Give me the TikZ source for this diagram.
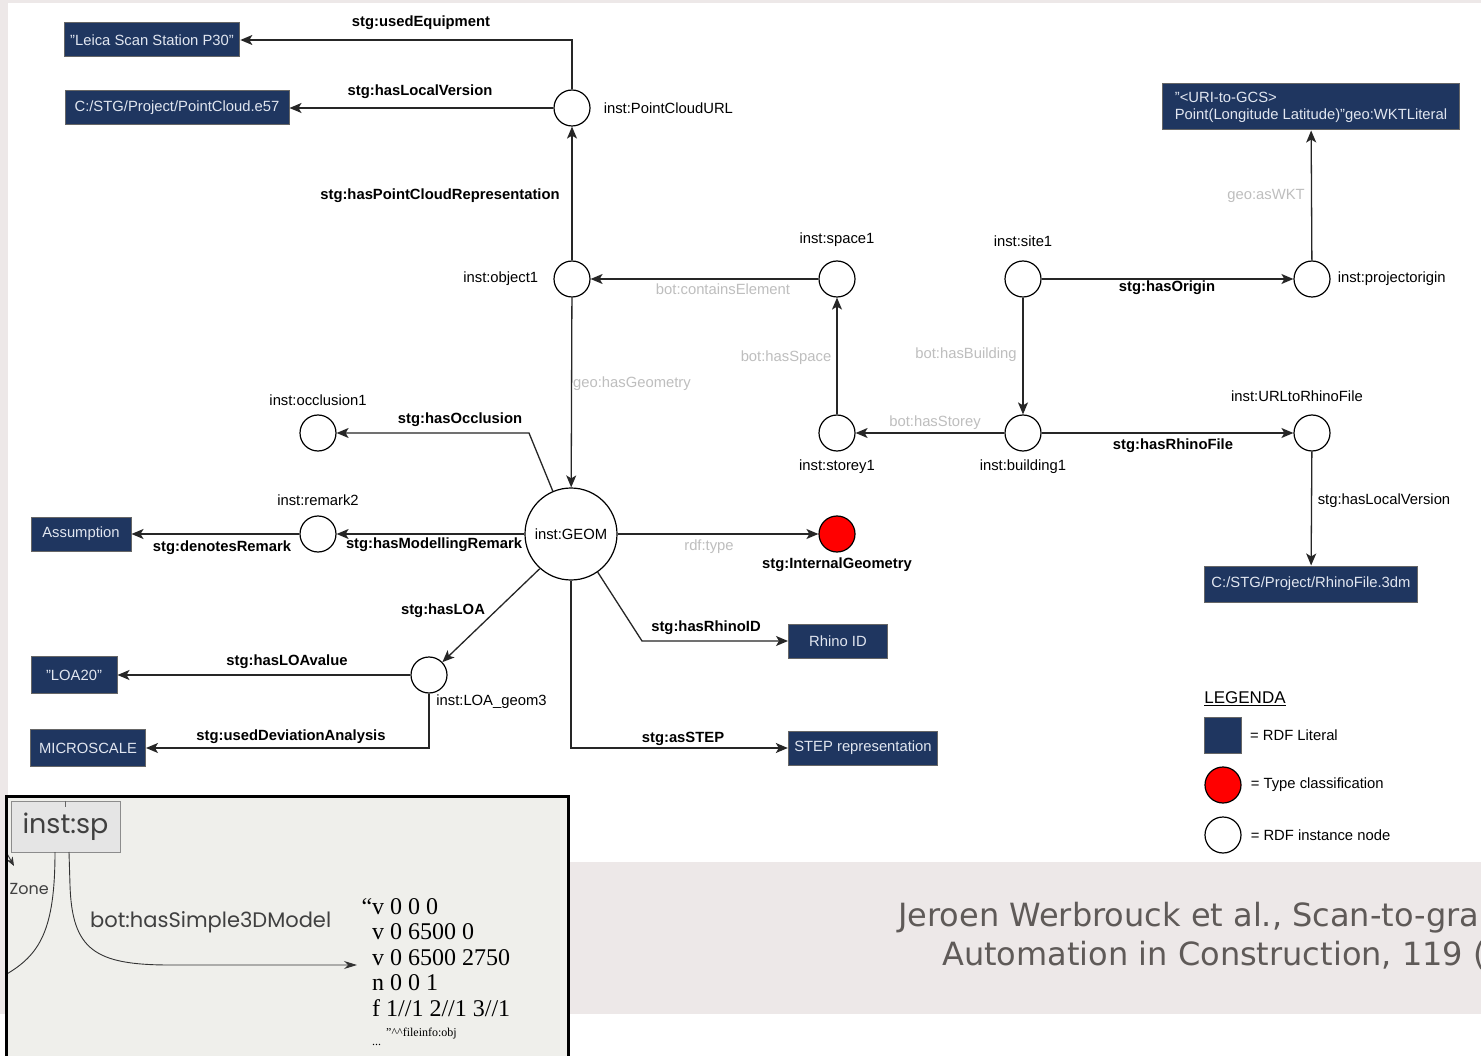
\documentclass[tikz,border=0pt]{standalone}
\usepackage{fontspec}
\setmainfont{Liberation Sans}
\newfontfamily\citefont{DejaVu Sans}
\newfontfamily\gothfont{Poppins}
\newfontfamily\objfont{Liberation Serif}
\usetikzlibrary{arrows.meta,positioning}
\definecolor{litblue}{RGB}{31,54,96}
\definecolor{littext}{RGB}{225,230,240}
\definecolor{relgray}{RGB}{190,190,190}
\definecolor{pagegray}{RGB}{237,232,232}
\definecolor{insetbg}{RGB}{239,239,235}
\definecolor{citegray}{RGB}{95,90,88}
\tikzset {
inst/.style={shape=circle,draw,line width=1.2pt,fill=white,minimum size=36pt,inner sep=0pt},
typ/.style={inst,fill=red},
lit/.style={shape=rectangle,draw=black!60,fill=litblue,text=littext,line width=1pt,minimum height=34pt,inner xsep=6pt,font=\fontsize{14.8}{17}\selectfont},
rel/.style={draw=black!85,line width=1.3pt,-{Stealth[length=12pt,width=10pt,inset=3pt]}},
lab/.style={inner sep=0pt,font=\fontsize{14.8}{17}\selectfont},
bl/.style={lab,font=\fontsize{14.8}{17}\selectfont\bfseries},
gl/.style={lab,text=relgray}
}
\begin{document}
\begin{tikzpicture}[x=1pt,y=-1pt]
\useasboundingbox (0,0) rectangle (1481,1056);
\fill[pagegray] (0,0) rectangle (1481,1056);
\fill[white] (8,3) rectangle (1481,862);
\fill[white] (0,1014) rectangle (1481,1056);
% instance nodes
\node[inst] (pcu) at (572,108) {};
\node[lab,right=13pt of pcu] (pcuL) {inst:PointCloudURL};
\node[inst] (obj) at (572,279) {};
\node[lab,left=15pt of obj] (objL) {inst:object1};
\node[inst] (space) at (837,279) {};
\node[lab,above=14pt of space] (spaceL) {inst:space1};
\node[inst] (site) at (1023,279) {};
\node[lab,above=14pt of site] (siteL) {inst:site1};
\node[inst] (origin) at (1312,279) {};
\node[lab,right=7pt of origin] (originL) {inst:projectorigin};
\node[inst] (occ) at (318,433) {};
\node[lab,above=9pt of occ] (occL) {inst:occlusion1};
\node[inst] (storey) at (837,433) {};
\node[lab,below=8pt of storey] (storeyL) {inst:storey1};
\node[inst] (bldg) at (1023,433) {};
\node[lab,below=8pt of bldg] (bldgL) {inst:building1};
\node[inst] (url) at (1312,433) {};
\node[lab,above=13pt of url,xshift=-15pt] (urlL) {inst:URLtoRhinoFile};
\node[inst] (remark) at (318,534) {};
\node[lab,above=10pt of remark] (remarkL) {inst:remark2};
\node[inst,minimum size=92pt,font=\fontsize{14.8}{17}\selectfont] (geom) at (571,534) {inst:GEOM};
\node[typ] (intgeo) at (837,534) {};
\node[bl,below=5pt of intgeo] (intgeoL) {stg:InternalGeometry};
\node[inst] (loa) at (429,675) {};
\node[lab,below right=6pt and -6pt of loa.south east] (loaL) {inst:LOA\_geom3};
% literals
\node[lit,minimum width=175pt] (leica) at (152,40) {"Leica Scan Station P30"};
\node[lit,minimum width=224pt] (e57) at (177,108) {C:/STG/Project/PointCloud.e57};
\node[lit,minimum width=297pt,minimum height=46pt,align=left] (uri) at (1311,107) {"<URI-to-GCS>\\Point(Longitude Latitude)"geo:WKTLiteral};
\node[lit,minimum width=213pt,minimum height=36pt] (rhinofile) at (1311,584) {C:/STG/Project/RhinoFile.3dm};
\node[lit,minimum width=100pt] (assump) at (81,534) {Assumption};
\node[lit,minimum width=99pt] (rhinoid) at (838,641) {Rhino ID};
\node[lit,minimum width=86pt,minimum height=37pt] (loa20) at (74,675) {"LOA20"};
\node[lit,minimum width=115pt,minimum height=37pt] (micro) at (88,748) {MICROSCALE};
\node[lit,minimum width=149pt] (step) at (863,748) {STEP representation};
% relations
\draw[rel] (pcu) |- (leica) node[bl] (lEquip) at (421,23) {stg:usedEquipment};
\draw[rel] (pcu) -- (e57) node[bl] (lLocal) at (420,92) {stg:hasLocalVersion};
\draw[rel] (obj) -- (pcu) node[bl] (lPcr) at (440,196) {stg:hasPointCloudRepresentation};
\draw[rel] (space) -- (obj) node[gl] (lCont) at (723,289) {bot:containsElement};
\draw[rel] (storey) -- (space) node[gl] (lSpace) at (786,358) {bot:hasSpace};
\draw[rel] (site) -- (bldg) node[gl] (lBldg) at (966,355) {bot:hasBuilding};
\draw[rel] (bldg) -- (storey) node[gl] (lStorey) at (935,423) {bot:hasStorey};
\draw[rel] (site) -- (origin) node[bl] (lOrigin) at (1167,288) {stg:hasOrigin};
\draw[rel] (origin) -- (uri) node[gl] (lWkt) at (1266,196) {geo:asWKT};
\draw[rel] (bldg) -- (url) node[bl] (lRhinoF) at (1173,446) {stg:hasRhinoFile};
\draw[rel] (url) -- (rhinofile) node[lab] (lLocal2) at (1384,501) {stg:hasLocalVersion};
\draw[rel] (obj) -- (geom) node[gl] (lGeom) at (632,384) {geo:hasGeometry};
\coordinate (occbend) at (529,433);
\draw[rel] (geom.113) -- (occbend) -- (occ) node[bl] (lOcc) at (460,420) {stg:hasOcclusion};
\draw[rel] (geom) -- (remark) node[bl] (lModRem) at (434,545) {stg:hasModellingRemark};
\draw[rel] (remark) -- (assump) node[bl] (lDenote) at (222,548) {stg:denotesRemark};
\draw[rel] (geom) -- (intgeo) node[gl] (lType) at (709,547) {rdf:type};
\coordinate (rhbend) at (642,641);
\draw[rel] (geom.-55) -- (rhbend) -- (rhinoid) node[bl] (lRhinoId) at (706,628) {stg:hasRhinoID};
\draw[rel] (geom.228) -- (loa) node[bl] (lLoa) at (443,611) {stg:hasLOA};
\draw[rel] (loa) -- (loa20) node[bl] (lLoaVal) at (287,662) {stg:hasLOAvalue};
\draw[rel] (loa) |- (micro) node[bl] (lDev) at (291,737) {stg:usedDeviationAnalysis};
\draw[rel] (geom) |- (step) node[bl] (lStep) at (683,739) {stg:asSTEP};
% legend
\node[lab,font=\fontsize{17}{19}\selectfont] (legT) at (1245,699) {\underline{LEGENDA}};
\node[lit,minimum width=37pt,minimum height=36pt] (legLit) at (1223,735) {};
\node[lab,right=8pt of legLit] (legLitL) {= RDF Literal};
\node[typ] (legTyp) at (1223,785) {};
\node[lab,right=9pt of legTyp] (legTypL) {= Type classification};
\node[inst] (legInst) at (1223,835) {};
\node[lab,right=9pt of legInst] (legInstL) {= RDF instance node};
% citation
\node[anchor=west,inner sep=0pt,text=citegray,font=\citefont\fontsize{32}{36}\selectfont] (cite1) at (898,918) {Jeroen Werbrouck et al., Scan-to-gra};
\node[anchor=west,inner sep=0pt,text=citegray,font=\citefont\fontsize{32}{36}\selectfont] (cite2) at (942,955) {Automation in Construction, 119 (};
% inset
\begin{scope}
\clip (5,795) rectangle (570,1056);
\fill[insetbg] (5,795) rectangle (570,1056);
\node[draw=black!45,fill=black!10,minimum width=109pt,minimum height=51pt,inner sep=0pt,text=black!75,font=\gothfont\fontsize{27}{30}\selectfont] (sp) at (65.5,826.5) {inst:sp};
\draw[black!60] (sp.north) -- ++(0,6);
\node[anchor=east,inner sep=0pt,text=black!75,font=\gothfont\fontsize{16}{20}\selectfont] (zone) at (49,889) {Zone};
\node[anchor=west,inner sep=0pt,text=black!75,font=\gothfont\fontsize{21}{24}\selectfont] (simple) at (90,922) {bot:hasSimple3DModel};
\node[anchor=north west,inner sep=0pt,align=left,font=\objfont\fontsize{24}{25.5}\selectfont] (objtxt) at (372,898) {\llap{“}v 0 0 0\\v 0 6500 0\\v 0 6500 2750\\n 0 0 1\\f 1//1 2//1 3//1};
\node[anchor=west,inner sep=0pt,font=\objfont\fontsize{12}{14}\selectfont] (objend) at (386,1034) {”\textasciicircum\textasciicircum fileinfo:obj};
\node[anchor=west,inner sep=0pt,font=\objfont\fontsize{12}{14}\selectfont] (objdots) at (372,1045) {...};
\draw[black!80,line width=0.9pt] (55,852) .. controls (55,930) and (40,955) .. (5,975);
\draw[black!80,line width=0.9pt,-{Stealth[length=13pt,width=8pt]}] (69,852) -- (70,885) .. controls (72,950) and (95,965) .. (170,965) -- ([xshift=-15pt]objtxt.west |- 0,965);
\draw[black!80,line width=0.9pt,-{Stealth[length=9pt,width=7pt]}] (5,850) -- (14,866);
\end{scope}
\draw[line width=3pt] (6.5,796.5) rectangle (568.5,1062);
\end{tikzpicture}
\end{document}
